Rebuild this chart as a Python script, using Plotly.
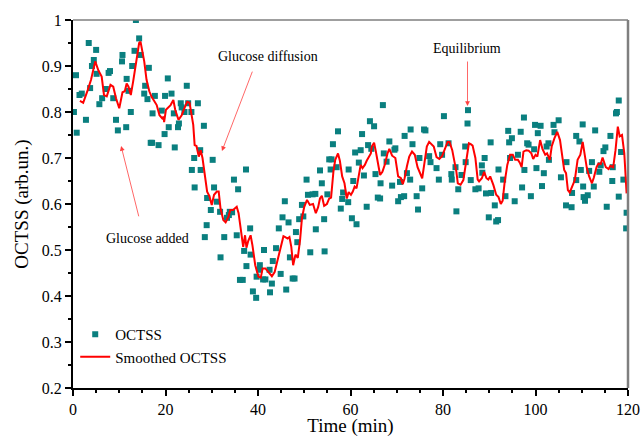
import plotly.graph_objects as go

# raw OCTSS readings (time in min, value in arb. units)
time_raw = [
    0.2, 0.65, 0.8, 1.4, 1.9, 2.8, 3.4, 3.7, 4.1, 4.5, 5.0, 5.1, 5.7, 6.3, 7.1, 7.7, 8.0, 8.7, 9.3, 9.7,
    10.6, 10.7, 11.5, 11.6, 12.0, 12.5, 12.8, 13.3, 13.6, 14.3, 14.6, 15.4, 15.6, 16.1, 16.4, 16.8,
    17.1, 17.2, 17.7, 18.5, 19.2, 19.8, 19.9, 20.5, 20.7, 21.3, 21.8, 22.0, 22.7, 22.9, 23.3, 23.5,
    24.1, 24.6, 24.9, 25.6, 25.7, 26.2, 26.3, 27.0, 27.5, 27.6, 28.3, 28.5, 28.9, 29.0, 29.8, 30.2,
    30.5, 31.1, 31.8, 31.9, 32.7, 33.3, 33.7, 33.9, 34.4, 34.8, 35.4, 35.7, 36.1, 36.7, 37.0, 37.4,
    37.5, 38.3, 38.4, 38.9, 39.6, 39.7, 40.3, 40.4, 41.1, 41.3, 41.6, 42.5, 42.6, 43.0, 43.2, 43.9,
    44.5, 44.9, 45.3, 45.8, 46.1, 46.6, 46.9, 47.5, 47.9, 48.2, 48.5, 48.9, 49.5, 49.8, 50.5, 50.8,
    51.3, 51.8, 52.4, 52.5, 53.4, 53.8, 54.3, 54.4, 55.0, 55.4, 55.7, 55.9, 56.2, 57.0, 57.3, 57.9,
    58.2, 58.4, 59.5, 59.6, 60.3, 60.6, 61.0, 61.3, 61.8, 62.2, 62.5, 62.9, 63.5, 63.8, 64.2, 64.5,
    65.1, 65.4, 65.9, 66.4, 66.5, 67.0, 67.2, 67.8, 68.4, 69.0, 69.5, 69.7, 70.3, 70.7, 70.9, 71.6,
    71.7, 72.2, 72.9, 73.0, 73.4, 74.3, 74.6, 74.9, 75.5, 75.9, 76.2, 77.0, 77.3, 78.6, 79.1, 79.4,
    79.8, 80.2, 81.2, 81.8, 81.9, 82.7, 82.9, 83.3, 84.0, 84.8, 84.9, 85.4, 85.3, 86.0, 87.0, 87.7,
    88.4, 88.5, 89.0, 89.3, 89.9, 90.3, 90.4, 91.2, 91.5, 91.9, 92.0, 93.0, 93.5, 94.1, 94.3, 94.5,
    94.9, 95.5, 96.2, 96.8, 97.1, 97.5, 97.6, 98.2, 98.5, 99.0, 99.7, 99.9, 100.2, 100.5, 101.1, 101.4,
    101.8, 102.4, 102.8, 102.9, 103.9, 104.1, 105.0, 105.5, 106.6, 106.7, 107.8, 107.9, 108.8, 108.8,
    109.5, 109.8, 110.2, 110.3, 110.4, 110.7, 111.3, 111.6, 112.2, 112.6, 112.9, 113.8, 114.1, 114.7,
    115.1, 115.4, 116.2, 116.6, 116.7, 117.4, 117.6, 118.0, 118.0, 118.5, 119.0, 119.6, 119.7,
]
octss_raw = [
    0.80, 0.88, 0.755, 0.837, 0.84, 0.783, 0.95, 0.852, 0.90, 0.913, 0.935, 0.883, 0.817, 0.83, 0.85, 0.885, 0.889, 0.83, 0.783, 0.76,
    0.91, 0.924, 0.767, 0.872, 0.846, 0.80, 0.90, 0.933, 1.0, 0.96, 0.924, 0.84, 0.857, 0.828, 0.896, 0.733,
    0.733, 0.797, 0.835, 0.728, 0.803, 0.752, 0.835, 0.873, 0.767, 0.84, 0.797, 0.723, 0.767, 0.775, 0.819, 0.81,
    0.80, 0.857, 0.819, 0.80, 0.674, 0.70, 0.636, 0.819, 0.717, 0.674, 0.77, 0.528, 0.554, 0.613, 0.587, 0.696,
    0.636, 0.605, 0.583, 0.484, 0.528, 0.57, 0.576, 0.583, 0.582, 0.653, 0.532, 0.632, 0.435, 0.435, 0.498, 0.675,
    0.465, 0.547, 0.49, 0.41, 0.396, 0.442, 0.457, 0.467, 0.436, 0.50, 0.436, 0.457, 0.408, 0.427, 0.476, 0.504,
    0.547, 0.448, 0.571, 0.606, 0.414, 0.56, 0.484, 0.438, 0.438, 0.539, 0.517, 0.567, 0.598, 0.573, 0.653, 0.62,
    0.495, 0.621, 0.622, 0.545, 0.673, 0.645, 0.567, 0.497, 0.621, 0.697, 0.675, 0.697, 0.73, 0.68, 0.758, 0.59,
    0.611, 0.625, 0.604, 0.675, 0.569, 0.65, 0.712, 0.556, 0.69, 0.717, 0.752, 0.662, 0.594, 0.728, 0.78, 0.72,
    0.769, 0.665, 0.614, 0.612, 0.645, 0.815, 0.71, 0.692, 0.736, 0.64, 0.718, 0.721, 0.606, 0.648, 0.615, 0.617,
    0.748, 0.667, 0.653, 0.762, 0.73, 0.617, 0.588, 0.70, 0.634, 0.762, 0.76, 0.704, 0.691, 0.678, 0.653, 0.73,
    0.707, 0.791, 0.732, 0.665, 0.653, 0.68, 0.584, 0.632, 0.663, 0.725, 0.691, 0.804, 0.775, 0.652, 0.632, 0.634,
    0.684, 0.668, 0.70, 0.623, 0.571, 0.734, 0.624, 0.597, 0.562, 0.565, 0.675, 0.653, 0.617, 0.759, 0.734, 0.70,
    0.743, 0.606, 0.707, 0.757, 0.636, 0.788, 0.674, 0.732, 0.729, 0.617, 0.719, 0.772, 0.678, 0.754, 0.77, 0.639,
    0.667, 0.725, 0.732, 0.696, 0.772, 0.756, 0.782, 0.658, 0.597, 0.691, 0.593, 0.624, 0.748, 0.652,
    0.736, 0.674, 0.773, 0.638, 0.615, 0.607, 0.619, 0.672, 0.691, 0.638, 0.76, 0.67, 0.684, 0.715,
    0.723, 0.594, 0.748, 0.65, 0.68, 0.797, 0.80, 0.825, 0.616, 0.713, 0.653, 0.547, 0.581,
]

# smoothed OCTSS curve
time_smooth = [
    1.5, 2.2, 3.2, 3.9, 4.8, 5.5, 6.2, 6.7, 7.3, 8.1, 8.7, 9.3, 10.0, 10.7, 11.2, 11.6, 12.0, 12.5, 13.0, 13.8,
    14.3, 14.6, 15.4, 15.9, 16.5, 17.0, 18.1, 18.7, 19.3, 19.6, 19.7, 20.1, 20.6, 21.1, 21.7, 22.1, 22.8, 23.5,
    24.2, 24.7, 25.2, 25.6, 26.0, 26.3, 26.7, 27.2, 27.6, 28.0, 28.5, 29.0, 29.5, 30.0, 30.5, 31.1, 31.5, 31.9,
    32.5, 33.0, 33.6, 34.0, 34.6, 35.4, 35.8, 36.1, 36.8, 37.2, 37.5, 37.9, 38.4, 38.8, 39.4, 40.1, 40.6, 41.0,
    41.6, 42.0, 42.5, 43.0, 43.6, 44.2, 44.9, 45.5, 45.9, 46.4, 46.8, 47.2, 47.6, 48.1, 48.6, 49.1, 49.5, 50.0,
    50.6, 51.2, 51.9, 52.5, 53.0, 53.4, 53.8, 54.3, 54.9, 55.4, 55.8, 56.3, 56.7, 57.3, 57.7, 58.2, 58.7, 59.2,
    59.6, 60.1, 60.5, 60.9, 61.3, 61.8, 62.2, 62.6, 63.1, 63.5, 63.9, 64.4, 64.6, 65.1, 65.5, 65.9, 66.4, 66.9,
    67.5, 68.0, 68.4, 69.0, 69.7, 70.3, 70.9, 71.3, 71.7, 72.2, 72.7, 73.3, 73.9, 74.5, 75.0, 75.5, 76.0, 76.5,
    77.0, 77.6, 78.0, 78.6, 79.2, 79.8, 80.4, 81.0, 81.4, 82.0, 82.4, 82.9, 83.2, 83.8, 84.4, 85.0, 85.6, 86.0,
    86.4, 87.0, 87.5, 87.8, 88.4, 88.9, 89.4, 89.8, 90.2, 90.9, 91.5, 92.0, 92.5, 92.9, 93.3, 93.9, 94.5, 95.1,
    95.6, 96.2, 96.6, 97.0, 97.4, 98.0, 98.5, 99.1, 99.5, 100.0, 100.4, 101.0, 101.5, 102.1, 102.5, 103.1, 103.5,
    104.1, 104.7, 105.3, 105.7, 106.2, 106.6, 107.0, 107.4, 107.9, 108.5, 109.1, 109.7, 110.2, 110.7, 111.1,
    111.6, 112.2, 112.6, 113.2, 113.6, 114.1, 114.5, 114.8, 115.2, 115.8, 116.2, 116.8, 117.3, 117.8, 118.2,
    118.7, 119.2, 119.7,
]
octss_smooth = [
    0.824, 0.82, 0.848, 0.87, 0.91, 0.89, 0.877, 0.837, 0.834, 0.859, 0.855, 0.83, 0.808, 0.843, 0.845, 0.862, 0.855, 0.837, 0.866, 0.913,
    0.95, 0.953, 0.91, 0.87, 0.845, 0.833, 0.815, 0.793, 0.786, 0.79, 0.778, 0.805, 0.81, 0.815, 0.826, 0.805, 0.783, 0.793,
    0.811, 0.822, 0.82, 0.797, 0.772, 0.728, 0.726, 0.703, 0.717, 0.70, 0.663, 0.627, 0.617, 0.598, 0.62, 0.627, 0.627, 0.59,
    0.565, 0.56, 0.572, 0.587, 0.587, 0.594, 0.58, 0.554, 0.507, 0.532, 0.505, 0.52, 0.532, 0.51, 0.467, 0.442, 0.44, 0.46,
    0.46, 0.455, 0.45, 0.443, 0.452, 0.478, 0.507, 0.53, 0.528, 0.525, 0.528, 0.507, 0.467, 0.49, 0.483, 0.522, 0.569, 0.594,
    0.609, 0.598, 0.60, 0.58, 0.593, 0.612, 0.618, 0.596, 0.60, 0.612, 0.614, 0.67, 0.696, 0.71, 0.694, 0.66, 0.645, 0.612,
    0.626, 0.62, 0.627, 0.638, 0.634, 0.66, 0.685, 0.678, 0.685, 0.694, 0.70, 0.71, 0.725, 0.733, 0.713, 0.688, 0.663, 0.67,
    0.688, 0.71, 0.72, 0.705, 0.70, 0.66, 0.656, 0.643, 0.656, 0.682, 0.703, 0.714, 0.707, 0.68, 0.668, 0.656, 0.69, 0.725,
    0.735, 0.728, 0.725, 0.702, 0.698, 0.704, 0.72, 0.735, 0.735, 0.717, 0.696, 0.67, 0.645, 0.642, 0.652, 0.688, 0.732, 0.73,
    0.727, 0.70, 0.653, 0.649, 0.656, 0.67, 0.656, 0.653, 0.66, 0.641, 0.62, 0.615, 0.60, 0.607, 0.645, 0.685, 0.707, 0.707,
    0.696, 0.696, 0.69, 0.68, 0.714, 0.717, 0.716, 0.71, 0.698, 0.707, 0.703, 0.739, 0.72, 0.707, 0.71, 0.696, 0.725,
    0.743, 0.757, 0.739, 0.714, 0.674, 0.667, 0.63, 0.625, 0.638, 0.652, 0.696, 0.707, 0.735, 0.703, 0.678,
    0.66, 0.645, 0.657, 0.68, 0.688, 0.687, 0.701, 0.69, 0.68, 0.676, 0.683, 0.68, 0.717, 0.768, 0.747,
    0.75, 0.71, 0.623,
]

serif = "Liberation Serif, Times New Roman, serif"

fig = go.Figure()

fig.add_trace(go.Scatter(
    x=time_raw, y=octss_raw,
    mode='markers',
    marker=dict(symbol='square', size=6, color='#0a7f7f'),
    name='OCTSS'
))

fig.add_trace(go.Scatter(
    x=time_smooth, y=octss_smooth,
    mode='lines',
    line=dict(color='#ff0000', width=2),
    name='Smoothed OCTSS'
))

# arrows with their labels
arrow = dict(xref='x', yref='y', axref='x', ayref='y', showarrow=True,
             arrowhead=2, arrowsize=1.2, arrowwidth=0.8, arrowcolor='#ff4040', text='')
fig.add_annotation(x=32.2, y=0.715, ax=38.9, ay=0.891, **arrow)
fig.add_annotation(x=10.4, y=0.726, ax=14.3, ay=0.57, **arrow)
fig.add_annotation(x=85.3, y=0.813, ax=85.3, ay=0.913, **arrow)

label_font = dict(family=serif, size=14, color='black')
fig.add_annotation(x=42.2, y=0.92, text='Glucose diffusion', showarrow=False, font=label_font)
fig.add_annotation(x=16.2, y=0.526, text='Glucose added', showarrow=False, font=label_font)
fig.add_annotation(x=85.2, y=0.937, text='Equilibrium', showarrow=False, font=label_font)

# grey top / right frame lines
fig.add_shape(type='line', xref='paper', yref='paper', x0=0, x1=1, y0=1, y1=1,
              line=dict(color='#7f7f7f', width=1.5))
fig.add_shape(type='line', xref='paper', yref='paper', x0=1, x1=1, y0=0, y1=1,
              line=dict(color='#7f7f7f', width=2.5))

fig.update_layout(
    width=643, height=437,
    margin=dict(l=73, r=15, t=20, b=49),
    plot_bgcolor='white', paper_bgcolor='white',
    font=dict(family=serif, size=16, color='black'),
    showlegend=True,
    legend=dict(x=0.004, y=0.19, xanchor='left', yanchor='top',
                bgcolor='rgba(0,0,0,0)', font=dict(family=serif, size=15),
                tracegroupgap=0, itemwidth=30),
    xaxis=dict(
        range=[0, 120], dtick=20, showgrid=False, zeroline=False, automargin=False,
        showline=True, linecolor='black', linewidth=2,
        ticks='outside', ticklen=6, tickwidth=1.5, tickcolor='black',
        minor=dict(dtick=5, ticks='outside', ticklen=3, tickcolor='black'),
        title=dict(text='Time (min)', font=dict(size=19), standoff=6),
        tickfont=dict(size=16),
    ),
    yaxis=dict(
        range=[0.2, 1.0], dtick=0.1, showgrid=False, zeroline=False, automargin=False,
        showline=True, linecolor='black', linewidth=2,
        ticks='outside', ticklen=6, tickwidth=1.5, tickcolor='black',
        minor=dict(dtick=0.05, ticks='outside', ticklen=3, tickcolor='black'),
        title=dict(text='OCTSS (arb.un.)', font=dict(size=19), standoff=8),
        tickfont=dict(size=16),
    ),
)

# the page body has a default 8px margin; drop it so the figure fills the window
fig.write_html("out.html", config={'displayModeBar': False},
               post_script="document.body.style.margin='0';")
